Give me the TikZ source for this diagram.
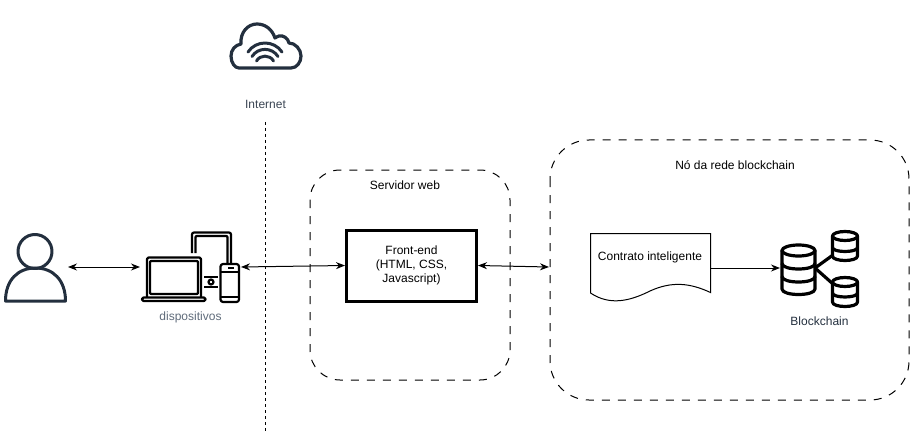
\documentclass[tikz,border=0pt]{standalone}
\usepackage{fontspec}
\setmainfont{Liberation Sans}
\usetikzlibrary{arrows.meta}
\definecolor{awsink}{HTML}{232F3E}
\definecolor{grayink}{HTML}{5F6B7A}
\definecolor{netink}{HTML}{3A4553}
\tikzset{
  px/.style={x=1pt,y=-1pt},
  label/.style={font=\fontsize{12}{14}\selectfont,text=#1,inner sep=0pt,align=center},
  label/.default=black,
  zone/.style={draw=black,line width=1pt,dash pattern=on 8pt off 8pt},
  conn/.style={draw=black,line width=1pt,{Stealth[length=9pt,width=7pt]}-{Stealth[length=9pt,width=7pt]}},
  oneway/.style={draw=black,line width=1pt,-{Stealth[length=9pt,width=7pt]}},
  icon/.style={draw=awsink,line width=3pt,line join=round,line cap=round},
  dbicon/.style={draw=black,line width=3.2pt,line join=round,line cap=round},
}
\newcommand{\dbcyl}[5]{% x0 x1 ytop ybottom ry
  \pgfmathsetmacro{\cxm}{(#1+#2)/2}\pgfmathsetmacro{\rxm}{(#2-#1)/2}
  \pgfmathsetmacro{\rym}{#5}
  \draw[dbicon,fill=white] (#1,#3+\rym) -- (#1,#4-\rym) .. controls (#1,#4+0.33*\rym) and (#2,#4+0.33*\rym) .. (#2,#4-\rym) -- (#2,#3+\rym);
  \draw[dbicon] (\cxm,#3+\rym) ellipse [x radius=\rxm, y radius=\rym];
}
\newcommand{\dbband}[4]{% x0 x1 yside ry
  \draw[dbicon] (#1,#3) .. controls (#1,#3+1.33*#4) and (#2,#3+1.33*#4) .. (#2,#3);
}
\begin{document}
\begin{tikzpicture}[px]
\useasboundingbox (0,0) rectangle (910,433);
% internet line
\coordinate (lineTop) at (265,122);
\coordinate (lineBot) at (265,431);
\draw[line width=1pt,dash pattern=on 3pt off 3pt] (lineTop) -- (lineBot);
% cloud
\draw[icon,line width=3.2pt] (239,68) -- (291,68)
  .. controls (297,68) and (301,62) .. (301,56)
  .. controls (301,49) and (295,43) .. (289,43)
  .. controls (288,38) and (283,35) .. (279,36)
  .. controls (277,37) and (276,37) .. (275,38)
  .. controls (272,29) and (265,24) .. (257,24)
  .. controls (248,24) and (240,32) .. (241,44)
  .. controls (235,45) and (231,50) .. (231,56)
  .. controls (231,63) and (235,68) .. (239,68) -- cycle;
\draw[icon] (248,52) .. controls (256,40) and (274,40) .. (282,52);
\draw[icon] (252,56.5) .. controls (258,47) and (272,47) .. (278,56.5);
\draw[icon] (256.5,61) .. controls (260,54.5) and (270,54.5) .. (273.5,61);
\node[label=netink] (internet) at (265.5,104) {Internet};
% person
\draw[icon] (35,251.5) circle (17);
\draw[icon] (5.5,301) .. controls (5.5,280) and (18,268) .. (35.5,268) .. controls (53,268) and (65.5,280) .. (65.5,301) -- cycle;
\coordinate (person) at (68,267);
% devices
\begin{scope}[draw=black,line width=2.2pt,line join=round]
\draw[rounded corners=1.5pt] (147,297) -- (147,257.5) -- (201,257.5) -- (201,297);
\draw[rounded corners=1pt] (150,261) rectangle (198,294);
\draw[rounded corners=1.5pt] (142,297.5) rectangle (205.5,301);
\draw[rounded corners=2pt] (192,253) -- (192,232.5) -- (231,232.5) -- (231,263);
\draw[rounded corners=1pt] (195.5,253) -- (195.5,236) -- (227.5,236) -- (227.5,263);
\draw[rounded corners=2.5pt] (220.5,264) rectangle (239,302);
\draw (220.5,272) -- (239,272);
\draw (220.5,297) -- (239,297);
\draw (204,277) -- (218,277);
\draw (204,287) -- (218,287);
\draw (211,282) circle (2.5);
\draw[line width=1.5pt] (228,268) -- (234,268);
\end{scope}
\coordinate (devL) at (140,267);
\coordinate (devR) at (241,267);
\node[label=grayink] (devlabel) at (190.5,317) {dispositivos};
% server zone
\draw[zone,rounded corners=30pt] (310,170) rectangle (510,380);
\node[label] (srv) at (405,185) {Servidor web};
\node[draw=black,line width=3pt,minimum width=130pt,minimum height=71pt,inner sep=0pt,label] (front) at (411.5,265.5) {Front-end\\(HTML, CSS,\\Javascript)};
% node zone
\draw[zone,rounded corners=39pt] (550,140) rectangle (909,400);
\coordinate (zoneL) at (549,267);
\node[label] (nolabel) at (735,165) {Nó da rede blockchain};
% contract document
\draw[line width=1pt] (590.5,233.5) -- (710.5,233.5) -- (710.5,292.5)
  .. controls (690,283) and (672,281) .. (650,291)
  .. controls (630,301) and (610,306) .. (590.5,293) -- cycle;
\node[label] (contract) at (650,257) {Contrato inteligente};
\coordinate (docR) at (710.5,268);
% blockchain icon
\draw[dbicon] (815,268) -- (833,255) (815,268) -- (833,284);
\dbcyl{782}{815}{245}{294.5}{5.5}
\dbband{782}{815}{263.5}{5.5}
\dbband{782}{815}{276.5}{5.5}
\dbcyl{832.5}{857.5}{231.5}{260.5}{4.5}
\dbband{832.5}{857.5}{247.5}{4}
\dbcyl{832.5}{857.5}{277.5}{306.5}{4.5}
\dbband{832.5}{857.5}{293}{4}
\coordinate (chain) at (780,268);
\node[label=awsink] (chainlabel) at (819.5,321) {Blockchain};
% connectors
\draw[conn] (person) -- (devL);
\draw[conn] (devR) -- (front.west);
\draw[conn] (front.east) -- (zoneL);
\draw[oneway] (docR) -- (chain);
\end{tikzpicture}
\end{document}
